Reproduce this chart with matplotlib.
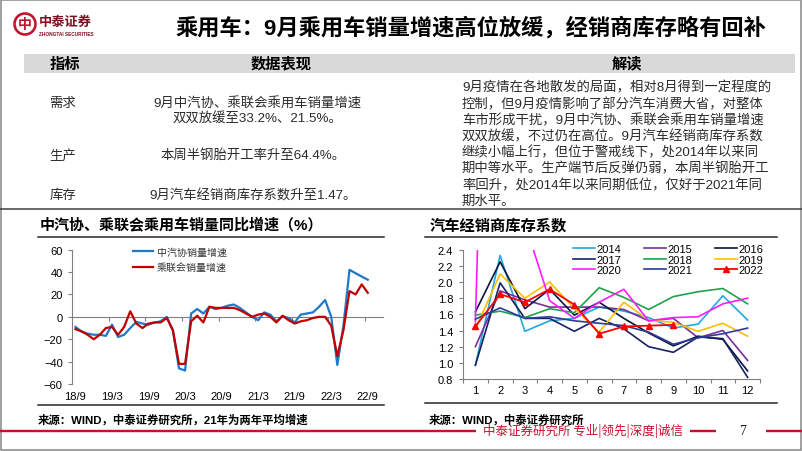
import matplotlib
matplotlib.use('Agg')
import matplotlib.pyplot as plt
from matplotlib.patches import Circle, Rectangle
import numpy as np

# ---------------- data ----------------
# monthly YoY growth, 2018/9 .. 2022/9 (49 months)
caam_growth = [-9, -13, -15, -16, -16, -17, -7, -18, -16, -10, -4.5, -6, -7, -5, -4, 0,
               -12, -46, -48, 3, 7, 3, 9, 7, 8, 10, 11, 8, 4, 0, -3, 4, 2, -4, 0.5, -1,
               -5, 2, 3, 4, 9, 15, 0, -43, -8, 42, 39, 36, 33.2]
cpca_growth = [-11, -13, -16, -20, -16, -10, -9, -16, -9, 5, -6, -10, -6, -5, -5, -1,
               -12, -42, -42, -4, 1, -5, 9, 8, 8, 8, 8, 6, 3, 0, 2, 3, 0, -5, 1, -3,
               -6, -4, -3, -1, 0, 0, -8, -35, -12, 23, 20, 29, 21.5]
growth_tick_labels = ['18/9', '19/3', '19/9', '20/3', '20/9', '21/3', '21/9', '22/3', '22/9']
growth_names = ['中汽协销量增速', '乘联会销量增速']

months = ['1', '2', '3', '4', '5', '6', '7', '8', '9', '10', '11', '12']
inv_years = ['2014', '2015', '2016', '2017', '2018', '2019', '2020', '2021', '2022']
inv_2014 = [0.97, 2.33, 1.39, 1.52, 1.55, 1.69, 1.64, 1.56, 1.43, 1.48, 1.83, 1.53]
inv_2015 = [1.20, 1.89, 1.78, 1.69, 1.69, 1.69, 1.66, 1.52, 1.55, 1.31, 1.40, 1.03]
inv_2016 = [1.63, 2.25, 1.67, 1.91, 1.59, 1.75, 1.55, 1.37, 1.21, 1.33, 1.29, 0.90]
inv_2017 = [0.97, 1.99, 1.55, 1.55, 1.39, 1.55, 1.42, 1.20, 1.13, 1.32, 1.30, 0.82]
inv_2018 = [1.59, 1.64, 1.56, 1.67, 1.62, 1.93, 1.81, 1.66, 1.82, 1.88, 1.92, 1.73]
inv_2019 = [1.42, 2.10, 1.80, 2.00, 1.67, 1.38, 1.75, 1.53, 1.50, 1.39, 1.49, 1.33]
inv_2020 = [1.51, 12.0, 2.73, 1.77, 1.55, 1.75, 1.91, 1.52, 1.56, 1.57, 1.73, 1.80]
inv_2021 = [1.54, 1.68, 1.55, 1.57, 1.52, 1.49, 1.46, 1.38, 1.23, 1.31, 1.36, 1.43]
inv_2022 = [1.45, 1.85, 1.75, 1.91, 1.72, 1.36, 1.45, 1.46, 1.47]
inv_values = [inv_2014, inv_2015, inv_2016, inv_2017, inv_2018, inv_2019, inv_2020, inv_2021, inv_2022]
inv_ticks = [0.8, 1.0, 1.2, 1.4, 1.6, 1.8, 2.0, 2.2, 2.4]

# ---------------- styles ----------------
inv_colors = ['#22A8E0', '#7A2E9E', '#0C1440', '#182361', '#1FA24B', '#FFC000',
              '#FF1CFF', '#2E3A98', '#FF0000']

W, H = 802, 452
CJK = ['Noto Sans CJK SC', 'DejaVu Sans']
MIX = ['Liberation Sans', 'Noto Sans CJK SC', 'DejaVu Sans']
plt.rcParams['font.family'] = MIX

fig = plt.figure(figsize=(W / 100, H / 100), dpi=100)
fig.patch.set_facecolor('white')


def rect(x0, y0, x1, y1):
    return [x0 / W, 1 - y1 / H, (x1 - x0) / W, (y1 - y0) / H]


bg = fig.add_axes([0, 0, 1, 1], zorder=0)
bg.set_xlim(0, W)
bg.set_ylim(H, 0)
bg.axis('off')

PX = 0.72  # points per pixel

# slide frame
bg.add_patch(Rectangle((0.8, 0.8), W - 1.6, H - 1.6, fill=False, ec='#8c8c8c', lw=1.6 * PX))

# logo
bg.add_patch(Circle((25, 25), 10.5, fc='white', ec='#C8102E', lw=2.6 * PX))
bg.text(25, 25.5, '中', fontsize=10, color='#C8102E', ha='center', va='center',
        family=CJK, weight='bold')
bg.text(39, 21.5, '中泰证券', fontsize=9.5, color='#7A1020', ha='left', va='center',
        family=CJK, weight='bold')
bg.text(39, 34, 'ZHONGTAI SECURITIES', fontsize=3.4, color='#7A1020', ha='left',
        va='center', family=MIX, weight='bold')

# title
bg.text(471, 28, '乘用车：9月乘用车销量增速高位放缓，经销商库存略有回补', fontsize=16,
        ha='center', va='center', family=MIX, weight='bold', color='black')

# table header band
bg.add_patch(Rectangle((24, 54.5), 771, 19, fc='#D9D9D9', ec='none'))
for x, s in [(65, '指标'), (281, '数据表现'), (627, '解读')]:
    bg.text(x, 64.5, s, fontsize=11, ha='center', va='center', family=MIX, weight='bold')

TXT = '#2b2b2b'
rows = [(63, 104, '需求'), (63, 156, '生产'), (63, 196, '库存')]
for x, y, s in rows:
    bg.text(x, y, s, fontsize=9.6, ha='center', va='center', family=MIX, color=TXT)
cells = [(257, 103, '9月中汽协、乘联会乘用车销量增速'),
         (257, 118.5, '双双放缓至33.2%、21.5%。'),
         (253, 156, '本周半钢胎开工率升至64.4%。'),
         (253, 196, '9月汽车经销商库存系数升至1.47。')]
for x, y, s in cells:
    bg.text(x, y, s, fontsize=9.6, ha='center', va='center', family=MIX, color=TXT)

para = ['9月疫情在各地散发的局面，相对8月得到一定程度的',
        '控制，但9月疫情影响了部分汽车消费大省，对整体',
        '车市形成干扰，9月中汽协、乘联会乘用车销量增速',
        '双双放缓，不过仍在高位。9月汽车经销商库存系数',
        '继续小幅上行，但位于警戒线下，处2014年以来同',
        '期中等水平。生产端节后反弹仍弱，本周半钢胎开工',
        '率回升，处2014年以来同期低位，仅好于2021年同',
        '期水平。']
for k, s in enumerate(para):
    bg.text(462, 88.3 + 16.2 * k, s, fontsize=9.6, ha='left', va='center', family=MIX,
            color=TXT)

# separator below table
bg.plot([0, W], [209.5, 209.5], color='#3a3a3a', lw=1.5 * PX)

# chart titles and rules
bg.text(40, 225, '中汽协、乘联会乘用车销量同比增速（%）', fontsize=10.8, ha='left',
        va='center', family=MIX, weight='bold')
bg.text(430, 226, '汽车经销商库存系数', fontsize=11, ha='left', va='center', family=MIX,
        weight='bold')
for (xa, xb), y in [((38, 384), 237.5), ((425, 777), 237.5), ((38, 384), 406), ((425, 777), 404)]:
    bg.plot([xa, xb], [y, y], color='#222222', lw=1.5 * PX)

bg.text(38, 420, '来源：WIND，中泰证券研究所，21年为两年平均增速', fontsize=8.2,
        ha='left', va='center', family=MIX, weight='bold')
bg.text(429, 420, '来源：WIND，中泰证券研究所', fontsize=8.2, ha='left', va='center',
        family=MIX, weight='bold')

# footer
RED = '#C8102E'
for xa, xb in [(0, 476), (690, 716), (766, W)]:
    bg.plot([xa, xb], [431.5, 431.5], color=RED, lw=2.4 * PX, solid_capstyle='butt')
bg.text(483, 431.5, '中泰证券研究所 专业|领先|深度|诚信', fontsize=9, ha='left',
        va='center', family=CJK, color=RED)
bg.text(743, 432, '7', fontsize=10, ha='center', va='center', family=['Liberation Serif'],
        color='#222222')

# ---------------- left chart ----------------
GRAY = '#7f7f7f'
ax1 = fig.add_axes(rect(72.4, 250.7, 383, 385), zorder=2)
ax1.patch.set_alpha(0)
xg = np.arange(len(caam_growth)) + 0.5
ax1.plot(xg, caam_growth, color='#1F78C8', lw=1.6, label=growth_names[0])
ax1.plot(xg, cpca_growth, color='#C00000', lw=1.6, label=growth_names[1])
ax1.set_xlim(0, 51)
ax1.set_ylim(-60, 60)
ax1.set_yticks(range(-60, 61, 20))
ax1.tick_params(axis='y', direction='out', length=3, width=0.8, color=GRAY,
                labelsize=8, pad=4, labelcolor='black')
for s in ['top', 'right', 'bottom']:
    ax1.spines[s].set_visible(False)
ax1.spines['left'].set_color(GRAY)
ax1.spines['left'].set_linewidth(0.8)
ax1.set_xticks([i * 6 + 0.5 for i in range(len(growth_tick_labels))])
ax1.set_xticklabels(growth_tick_labels)
ax1.tick_params(axis='x', length=0, labelsize=8, pad=5)
sec = ax1.secondary_xaxis(0.5)
sec.set_xticks(range(6, 49, 6))
sec.set_xticklabels([])
sec.tick_params(direction='in', length=3, width=0.8, color=GRAY)
for s in ['top', 'bottom']:
    sec.spines[s].set_color(GRAY)
    sec.spines[s].set_linewidth(0.8)
leg1 = ax1.legend(loc='upper left', bbox_to_anchor=(133 / W, 1 - 247.5 / H),
                  bbox_transform=fig.transFigure, frameon=False,
                  prop={'family': CJK, 'size': 7.2}, handlelength=2.0, handletextpad=0.4,
                  labelspacing=0.55, borderpad=0, borderaxespad=0)
for t in leg1.get_texts():
    t.set_color('#333333')

# ---------------- right chart ----------------
ax2 = fig.add_axes(rect(463, 250.7, 760, 380), zorder=2)
ax2.patch.set_alpha(0)
xm = np.arange(1, 13) - 0.5
lines = []
for yr, vals, c in zip(inv_years, inv_values, inv_colors):
    if yr == '2022':
        ln, = ax2.plot(xm[:len(vals)], vals, color=c, lw=1.3, marker='^', ms=5, zorder=5,
                       label=yr)
    else:
        ln, = ax2.plot(xm[:len(vals)], vals, color=c, lw=1.2, label=yr)
    lines.append(ln)
ax2.set_xlim(0, 12)
ax2.set_ylim(0.8, 2.4)
ax2.set_yticks(inv_ticks)
ax2.set_yticklabels([f'{v:.1f}' for v in inv_ticks])
ax2.tick_params(axis='y', direction='out', length=3, width=0.8, color=GRAY, labelsize=8,
                pad=4)
ax2.set_xticks(range(0, 13))
ax2.set_xticklabels([])
ax2.set_xticks(xm, minor=True)
ax2.set_xticklabels(months, minor=True)
ax2.tick_params(axis='x', which='major', direction='out', length=3, width=0.8, color=GRAY)
ax2.tick_params(axis='x', which='minor', length=0, labelsize=8, pad=4.5)
for s in ['top', 'right']:
    ax2.spines[s].set_visible(False)
for s in ['left', 'bottom']:
    ax2.spines[s].set_color(GRAY)
    ax2.spines[s].set_linewidth(0.8)
order = [0, 3, 6, 1, 4, 7, 2, 5, 8]
leg2 = ax2.legend([lines[i] for i in order], [inv_years[i] for i in order], ncol=3,
                  loc='upper left', bbox_to_anchor=(573 / W, 1 - 245 / H),
                  bbox_transform=fig.transFigure, frameon=False,
                  prop={'family': MIX, 'size': 8}, handlelength=2.0, handletextpad=0.15,
                  labelspacing=0.05, columnspacing=2.0, borderpad=0, borderaxespad=0)

fig.savefig('out.png', dpi=100, facecolor='white')
